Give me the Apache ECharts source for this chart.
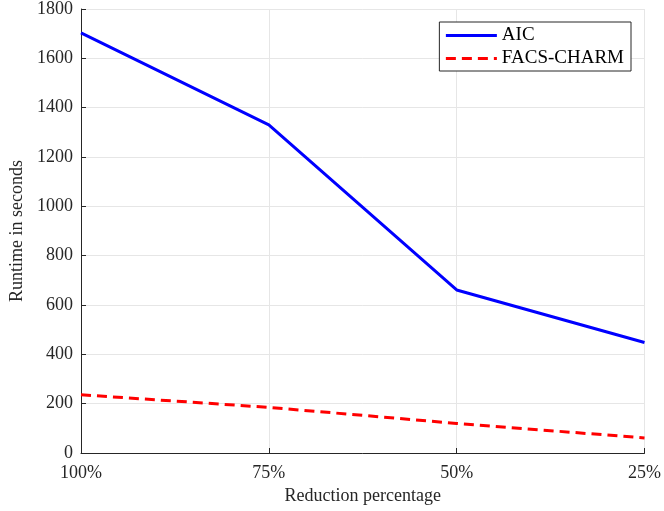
<!DOCTYPE html>
<html>
<head>
<meta charset="utf-8">
<script src="https://cdn.jsdelivr.net/npm/echarts@6/dist/echarts.min.js"></script>
<style>
  html, body { margin: 0; padding: 0; background: #fff; }
  #chart { width: 664px; height: 511px; }
</style>
</head>
<body>
<div id="chart"></div>
<script>
// reduction levels on the x axis
var categories = ['100%', '75%', '50%', '25%'];
// runtime values (seconds)
var aicValues = [1703, 1330, 661, 448];
var facsValues = [236, 185, 120, 61];

var fontFamily = '"Liberation Serif", "DejaVu Serif", serif';
var textColor = '#262626';

var chart = echarts.init(document.getElementById('chart'), null, { renderer: 'canvas' });

var option = {
  backgroundColor: '#fff',
  animation: false,
  grid: {
    left: 81,
    right: 18,
    top: 8,
    bottom: 58
  },
  legend: {
    right: 33,
    top: 22,
    orient: 'vertical',
    itemWidth: 51,
    itemHeight: 14,
    itemGap: 4,
    padding: [4, 7, 3, 5],
    borderColor: textColor,
    borderWidth: 1,
    backgroundColor: '#fff',
    itemStyle: { opacity: 0 },
    lineStyle: { width: 3 },
    textStyle: {
      fontFamily: fontFamily,
      fontSize: 19,
      color: '#000'
    },
    data: ['AIC', 'FACS-CHARM']
  },
  xAxis: {
    type: 'category',
    data: categories,
    boundaryGap: false,
    name: 'Reduction percentage',
    nameLocation: 'middle',
    nameGap: 33,
    nameTextStyle: { fontFamily: fontFamily, fontSize: 18, color: textColor },
    axisLine: { lineStyle: { color: textColor, width: 1 } },
    axisTick: { inside: true, length: 5, lineStyle: { color: textColor } },
    axisLabel: { fontFamily: fontFamily, fontSize: 18, color: textColor, margin: 11 },
    splitLine: { show: true, lineStyle: { color: '#e6e6e6', width: 1 } }
  },
  yAxis: {
    type: 'value',
    min: 0,
    max: 1800,
    interval: 200,
    name: 'Runtime in seconds',
    nameLocation: 'middle',
    nameGap: 52,
    nameTextStyle: { fontFamily: fontFamily, fontSize: 18, color: textColor },
    axisLine: { show: true, lineStyle: { color: textColor, width: 1 } },
    axisTick: { show: true, inside: true, length: 5, lineStyle: { color: textColor } },
    axisLabel: {
      fontFamily: fontFamily, fontSize: 18, color: textColor, margin: 8,
      formatter: function (v) { return String(v); }
    },
    splitLine: { show: true, lineStyle: { color: '#e6e6e6', width: 1 } }
  },
  series: [
    {
      name: 'AIC',
      type: 'line',
      data: aicValues,
      symbol: 'none',
      lineStyle: { color: '#0000ff', width: 3 },
      itemStyle: { color: '#0000ff' }
    },
    {
      name: 'FACS-CHARM',
      type: 'line',
      data: facsValues,
      symbol: 'none',
      lineStyle: { color: '#ff0000', width: 3, type: [10, 6] },
      itemStyle: { color: '#ff0000' }
    }
  ]
};

chart.setOption(option);
</script>
</body>
</html>
